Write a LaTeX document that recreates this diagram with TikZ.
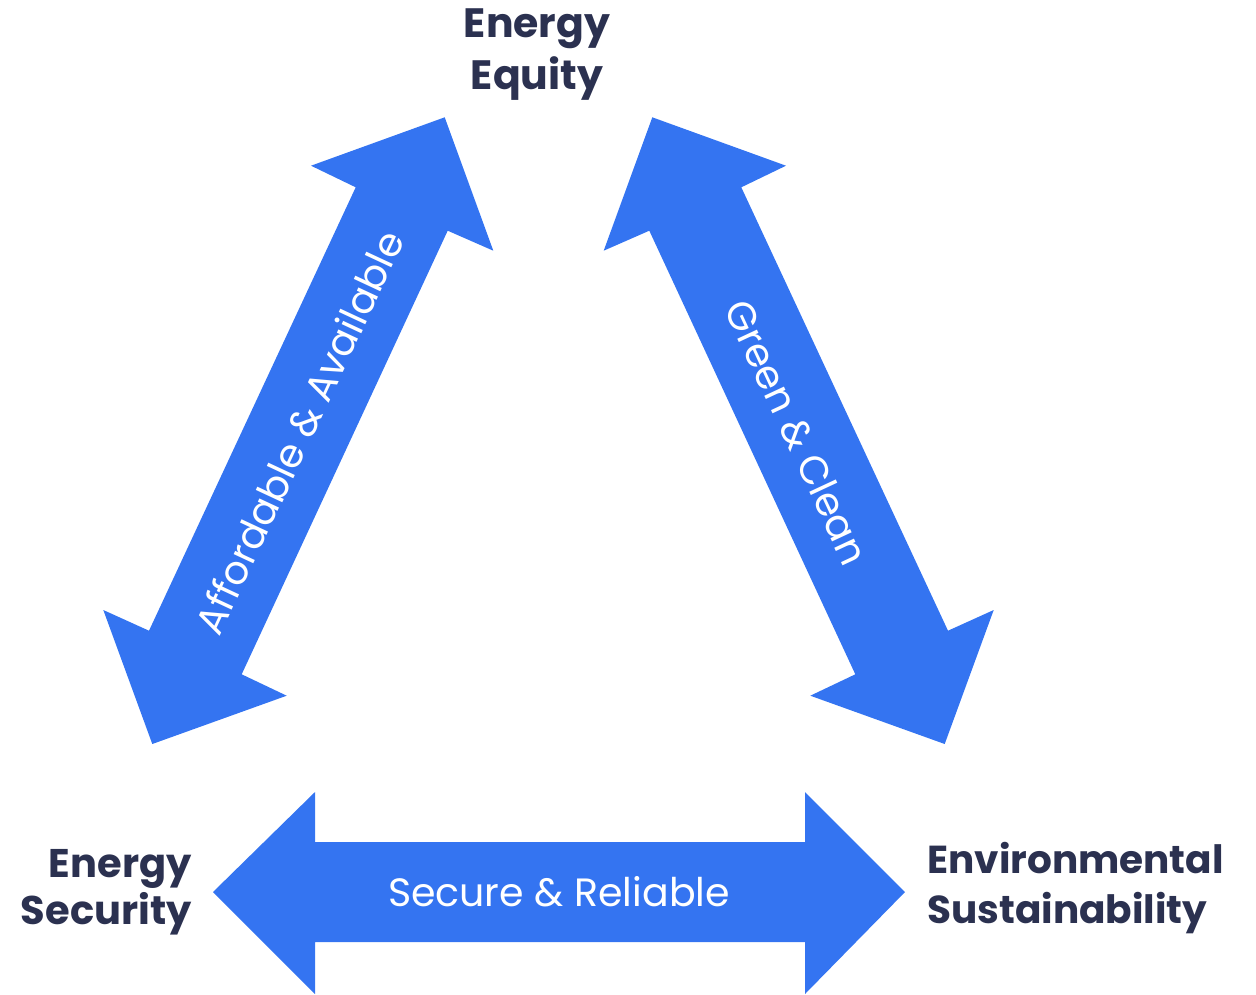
\documentclass[tikz,border=0pt]{standalone}
\usepackage{fontspec}
\setmainfont{Poppins}
\definecolor{arrowblue}{HTML}{3474F1}
\definecolor{labelnavy}{HTML}{2B3150}
\begin{document}
\begin{tikzpicture}[x=1pt,y=-1pt,
  arrowbody/.style={fill=arrowblue, draw=none},
  pillar/.style={text=labelnavy, inner sep=0pt},
  flowtext/.style={font=\fontsize{39.5}{42}\selectfont, text=white, inner sep=0pt}]
\useasboundingbox (0,0) rectangle (1256,994);

% left diagonal double arrow
\coordinate (la1) at (444.7,117.3);
\coordinate (la2) at (493.3,250.7);
\coordinate (la3) at (447.7,230.7);
\coordinate (la4) at (241.7,674.3);
\coordinate (la5) at (286.7,695.7);
\coordinate (la6) at (152.3,744);
\coordinate (la7) at (103.3,610);
\coordinate (la8) at (149,630.7);
\coordinate (la9) at (355.7,187.3);
\coordinate (la10) at (311,165.7);
\fill[arrowbody] (la1) -- (la2) -- (la3) -- (la4) -- (la5) -- (la6) -- (la7) -- (la8) -- (la9) -- (la10) -- cycle;

% right diagonal double arrow
\coordinate (ra1) at (652.3,117.3);
\coordinate (ra2) at (603.7,250.7);
\coordinate (ra3) at (649.3,230.7);
\coordinate (ra4) at (855.3,674.3);
\coordinate (ra5) at (810.3,695.7);
\coordinate (ra6) at (944.7,744);
\coordinate (ra7) at (993.7,610);
\coordinate (ra8) at (948,630.7);
\coordinate (ra9) at (741.3,187.3);
\coordinate (ra10) at (786,165.7);
\fill[arrowbody] (ra1) -- (ra2) -- (ra3) -- (ra4) -- (ra5) -- (ra6) -- (ra7) -- (ra8) -- (ra9) -- (ra10) -- cycle;

% bottom horizontal double arrow
\coordinate (ba1) at (213,892);
\coordinate (ba2) at (315,792);
\coordinate (ba3) at (315,842);
\coordinate (ba4) at (805,842);
\coordinate (ba5) at (805,792);
\coordinate (ba6) at (905,892);
\coordinate (ba7) at (805,994);
\coordinate (ba8) at (805,942);
\coordinate (ba9) at (315,942);
\coordinate (ba10) at (315,994);
\fill[arrowbody] (ba1) -- (ba2) -- (ba3) -- (ba4) -- (ba5) -- (ba6) -- (ba7) -- (ba8) -- (ba9) -- (ba10) -- cycle;

% arrow labels
\node[flowtext, rotate=65] (afford) at (299,432) {Affordable \& Available};
\node[flowtext, rotate=-65] (green) at (797,432) {Green \& Clean};
\node[flowtext] (secure) at (559,892) {Secure \& Reliable};

% corner labels (base anchor = baseline of the last line)
\node[pillar, font=\fontsize{41}{52}\selectfont\bfseries, align=center, anchor=base] (equity) at (537,89) {Energy\\Equity};
\node[pillar, font=\fontsize{40}{47}\selectfont\bfseries, align=right, anchor=base east] (security) at (192,924) {Energy\\Security};
\node[pillar, font=\fontsize{39}{50}\selectfont\bfseries, align=left, anchor=base west] (environ) at (927,923) {Environmental\\Sustainability};
\end{tikzpicture}
\end{document}
